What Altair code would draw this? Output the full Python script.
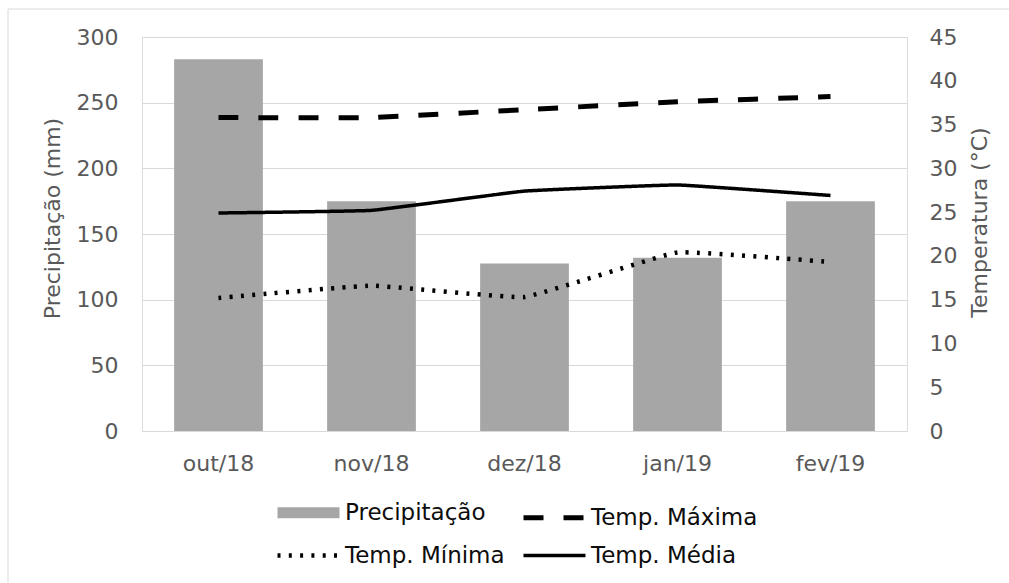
import altair as alt
import pandas as pd

meses = ["out/18", "nov/18", "dez/18", "jan/19", "fev/19"]
precipitacao = [283, 175, 127.5, 132, 175]
temp_maxima = [35.8, 35.8, 36.7, 37.6, 38.2]
temp_minima = [15.2, 16.6, 15.3, 20.4, 19.3]
temp_media = [24.9, 25.2, 27.4, 28.1, 26.9]

series = ["Precipitação", "Temp. Máxima", "Temp. Mínima", "Temp. Média"]

FONT = "DejaVu Sans"
GRAY_TXT = "#595959"

df_bar = pd.DataFrame({"mes": meses, "valor": precipitacao})
rows = []
for nome, vals in [("Temp. Máxima", temp_maxima), ("Temp. Mínima", temp_minima), ("Temp. Média", temp_media)]:
    for m, v in zip(meses, vals):
        rows.append({"mes": m, "valor": v, "serie": nome})
df_line = pd.DataFrame(rows)

x_enc = alt.X(
    "mes:N",
    sort=meses,
    title=None,
    scale=alt.Scale(type="band", domain=meses, paddingInner=0.42, paddingOuter=0.21),
    axis=alt.Axis(domain=False, ticks=False, labelFont=FONT, labelFontSize=22,
                  labelColor=GRAY_TXT, labelPadding=22, labelAngle=0),
)

bars = alt.Chart(df_bar).mark_bar(color="#a6a6a6").encode(
    x=x_enc,
    y=alt.Y("valor:Q", scale=alt.Scale(domain=[0, 300], nice=False),
            axis=alt.Axis(title="Precipitação (mm)", values=list(range(0, 301, 50)),
                          domain=False, ticks=False, grid=True, gridColor="#d9d9d9",
                          labelFont=FONT, labelFontSize=22, labelColor=GRAY_TXT, labelPadding=24,
                          titleFont=FONT, titleFontSize=22, titleColor=GRAY_TXT, titleFontWeight="normal",
                          titleAngle=270, titleX=-83, titleY=181, titleBaseline="alphabetic",
                          titleAlign="center")),
)

sw_expr = "datum.value === 'Precipitação' ? 11 : datum.value === 'Temp. Máxima' ? 5 : datum.value === 'Temp. Mínima' ? 4.5 : 3.5"
sc_expr = "datum.value === 'Precipitação' ? '#a6a6a6' : '#000000'"

dash_enc = alt.StrokeDash(
    "serie:N",
    scale=alt.Scale(domain=series, range=[[1, 0], [20, 20], [3, 8.3], [1, 0]]),
    legend=alt.Legend(title=None, orient="none", legendX=135, legendY=464, columns=2,
                      direction="horizontal",
                      symbolType="stroke", symbolSize=3844, symbolOffset=20,
                      rowPadding=9, columnPadding=8, labelOffset=25,
                      labelFont=FONT, labelFontSize=23, labelColor="#0d0d0d",
                      labelLimit=400, padding=0,
                      symbolStrokeWidth=alt.ExprRef(expr=sw_expr),
                      symbolStrokeColor=alt.ExprRef(expr=sc_expr),
                      symbolFillColor="transparent", symbolOpacity=1),
)

y_line = alt.Y("valor:Q", scale=alt.Scale(domain=[0, 45], nice=False),
               axis=alt.Axis(title="Temperatura (°C)", orient="right", values=list(range(0, 46, 5)),
                             domain=False, ticks=False, grid=False,
                             labelFont=FONT, labelFontSize=22, labelColor=GRAY_TXT, labelPadding=22,
                             titleFont=FONT, titleFontSize=22, titleColor=GRAY_TXT, titleFontWeight="normal",
                             titleAngle=270, titleX=79, titleY=185, titleBaseline="alphabetic",
                             titleAlign="center"))

widths = {"Temp. Máxima": 5, "Temp. Mínima": 4.5, "Temp. Média": 3.5}
line_layers = []
for nome in ["Temp. Máxima", "Temp. Mínima", "Temp. Média"]:
    line_layers.append(
        alt.Chart(df_line).transform_filter(alt.datum.serie == nome).mark_line(
            color="black", strokeWidth=widths[nome], strokeCap="butt", strokeJoin="round",
            interpolate="cardinal", tension=0.75
        ).encode(x=x_enc, y=y_line, strokeDash=dash_enc)
    )
lines = alt.layer(*line_layers)

frame = alt.Chart(pd.DataFrame({"a": [0]})).mark_rect(
    fill=None, stroke="#d9d9d9", strokeWidth=1, clip=False
).encode(x=alt.value(-134), y=alt.value(-28), x2=alt.value(900), y2=alt.value(600))

chart = alt.layer(frame, bars, lines).resolve_scale(y="independent").properties(
    width=765, height=394,
    autosize=alt.AutoSizeParams(type="none"),
    padding={"left": 142, "top": 37, "right": 102, "bottom": 152},
).configure_view(stroke="#a9c2cd", strokeWidth=1).configure(background="white")

chart.save("out.html", embed_options={"renderer": "svg", "actions": False})
